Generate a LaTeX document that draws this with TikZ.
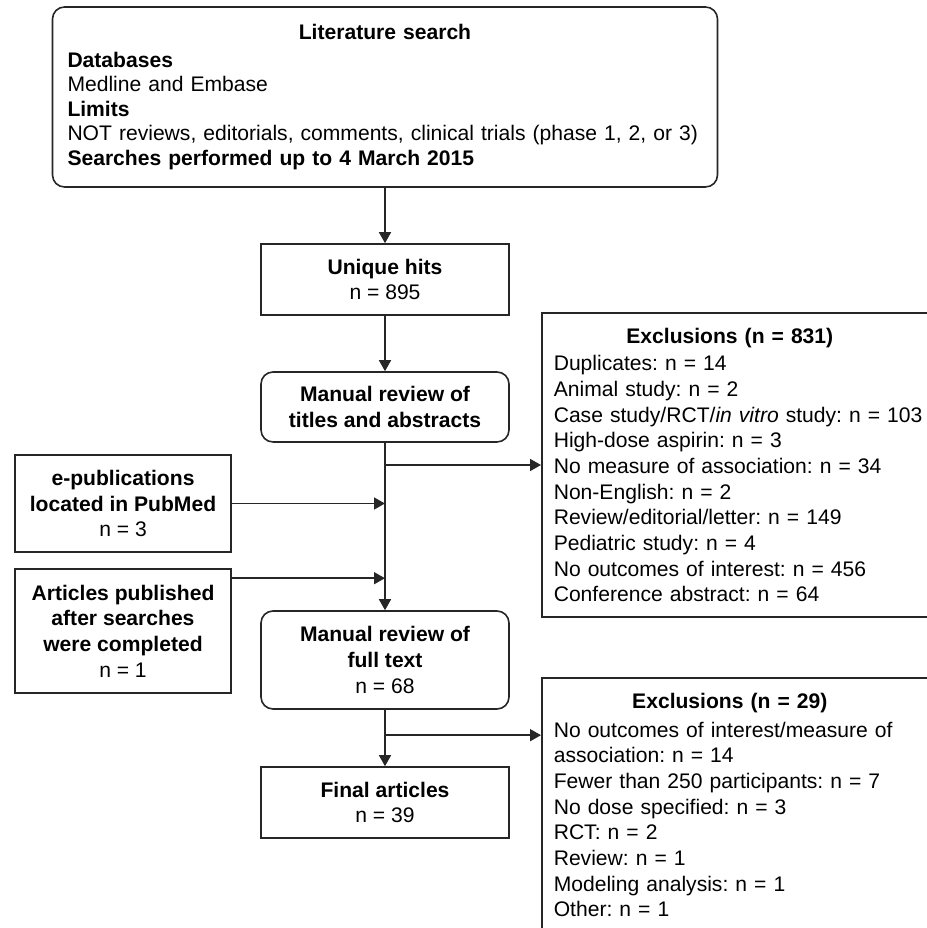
\documentclass[tikz,border=0pt]{standalone}
\usepackage{fontspec}
\setmainfont{Liberation Sans}
\usetikzlibrary{arrows.meta,positioning,calc}
\frenchspacing

\tikzset{
  box/.style={draw=black!85, line width=0.9pt, align=center, minimum width=4.96cm, inner sep=0pt},
  roundbox/.style={box, rounded corners=0.24cm},
  sidebox/.style={box, minimum width=4.32cm},
  exclbox/.style={draw=black!85, line width=0.9pt, align=left, text width=7.6cm, inner xsep=0.24cm, inner ysep=0.3cm},
  flow/.style={draw=black!85, line width=0.9pt, -{Triangle[length=0.22cm,width=0.24cm]}},
}

\begin{document}
\begin{tikzpicture}[font=\fontsize{12}{14.6}\selectfont]

\useasboundingbox (0,0) rectangle (18.54,18.56);
\clip (0,0) rectangle (18.54,18.56);

% search
\node[roundbox, minimum width=13.3cm, minimum height=3.6cm, text width=12.7cm, align=left,
      font=\fontsize{12}{13.9}\selectfont] (search) at (7.70,16.62)
  {\makebox[12.7cm]{\textbf{Literature search}}\\[2pt]
   \textbf{Databases}\\
   Medline and Embase\\
   \textbf{Limits}\\
   \mbox{NOT reviews, editorials, comments, clinical trials (phase 1, 2, or 3)}\\
   \textbf{Searches performed up to 4 March 2015}};

% main column
\node[box, minimum height=1.42cm] (hits) at (7.70,12.97) {\textbf{Unique hits}\\n = 895};
\node[roundbox, minimum height=1.4cm] (screen) at (7.70,10.42) {\textbf{Manual review of}\\\textbf{titles and abstracts}};
\node[roundbox, minimum height=1.96cm] (fulltext) at (7.70,5.36) {\textbf{Manual review of}\\\textbf{full text}\\n = 68};
\node[box, minimum height=1.42cm] (final) at (7.70,2.51) {\textbf{Final articles}\\n = 39};

% extra sources
\node[sidebox, minimum height=1.94cm] (epub) at (2.46,8.49) {\textbf{e-publications}\\\textbf{located in PubMed}\\n = 3};
\node[sidebox, minimum height=2.48cm] (late) at (2.46,5.94) {\textbf{Articles published}\\\textbf{after searches}\\\textbf{were completed}\\n = 1};

% exclusions
\node[exclbox, minimum height=6.08cm, inner ysep=0pt, anchor=west] (excl1) at (10.82,9.26)
  {\makebox[7.04cm]{\textbf{Exclusions (n = 831)}}\\[1pt]
   Duplicates: n = 14\\
   Animal study: n = 2\\
   Case study/RCT/\textit{in vitro} study: n = 103\\
   High-dose aspirin: n = 3\\
   No measure of association: n = 34\\
   Non-English: n = 2\\
   Review/editorial/letter: n = 149\\
   Pediatric study: n = 4\\
   No outcomes of interest: n = 456\\
   Conference abstract: n = 64};

\node[exclbox, anchor=north west] (excl2) at (10.82,5.02)
  {\makebox[7.04cm]{\textbf{Exclusions (n = 29)}}\\[2pt]
   No outcomes of interest/measure of\\
   association: n = 14\\
   Fewer than 250 participants: n = 7\\
   No dose specified: n = 3\\
   RCT: n = 2\\
   Review: n = 1\\
   Modeling analysis: n = 1\\
   Other: n = 1\strut};

% arrows
\draw[flow] (search.south) -- (hits.north);
\draw[flow] (hits.south) -- (screen.north);
\draw[flow] (screen.south) -- (fulltext.north);
\draw[flow] (screen.south |- excl1.west) -- (excl1.west);
\draw[flow] (epub.east) -- (epub.east -| screen.south);
\coordinate (lateout) at ([yshift=-0.2cm]late.north east);
\draw[flow] (lateout) -- (lateout -| screen.south);
\draw[flow] (fulltext.south) -- (final.north);
\coordinate (split) at ($(fulltext.south)!0.45!(final.north)$);
\draw[flow] (split) -- (split -| excl2.west);

\end{tikzpicture}
\end{document}
